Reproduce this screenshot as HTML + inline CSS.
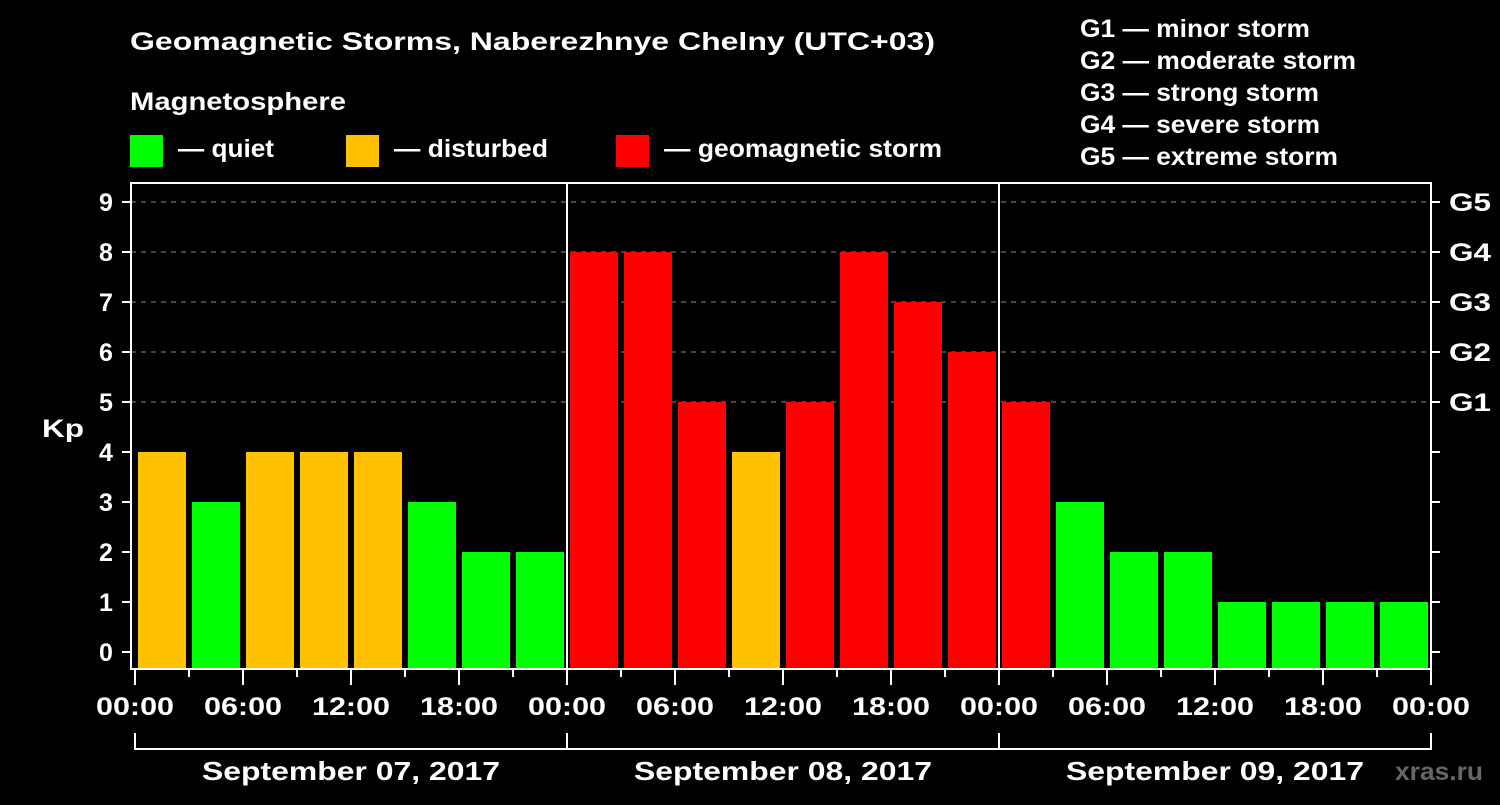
<!DOCTYPE html>
<html><head><meta charset="utf-8"><style>
body{margin:0;background:#000;width:1500px;height:800px;overflow:hidden}
svg text{font-family:"Liberation Sans",sans-serif;font-weight:bold;fill:#fff}
</style></head><body>
<svg id="c" width="1500" height="800">
<text x="130" y="50" font-size="25" textLength="805" lengthAdjust="spacingAndGlyphs">Geomagnetic Storms, Naberezhnye Chelny (UTC+03)</text>
<text x="130" y="110" font-size="25" textLength="216" lengthAdjust="spacingAndGlyphs">Magnetosphere</text>
<g><rect x="130" y="135" width="33" height="32" fill="#00ff00"/><text x="178" y="157" font-size="25" textLength="96" lengthAdjust="spacingAndGlyphs">— quiet</text></g>
<g><rect x="346" y="135" width="33" height="32" fill="#ffc000"/><text x="394" y="157" font-size="25" textLength="154" lengthAdjust="spacingAndGlyphs">— disturbed</text></g>
<g><rect x="616" y="135" width="33" height="32" fill="#ff0000"/><text x="664" y="157" font-size="25" textLength="278" lengthAdjust="spacingAndGlyphs">— geomagnetic storm</text></g>
<g font-size="25">
<text x="1080" y="37" textLength="230" lengthAdjust="spacingAndGlyphs">G1 — minor storm</text><text x="1080" y="69" textLength="276" lengthAdjust="spacingAndGlyphs">G2 — moderate storm</text><text x="1080" y="101" textLength="239" lengthAdjust="spacingAndGlyphs">G3 — strong storm</text><text x="1080" y="133" textLength="240" lengthAdjust="spacingAndGlyphs">G4 — severe storm</text><text x="1080" y="165" textLength="258" lengthAdjust="spacingAndGlyphs">G5 — extreme storm</text></g>
<text x="42" y="437" font-size="25" textLength="42" lengthAdjust="spacingAndGlyphs">Kp</text>
<g id="grid"></g><g id="bars"></g><g id="axes"></g>
<text x="1395" y="780" font-size="25" textLength="88" lengthAdjust="spacingAndGlyphs" style="fill:#666">xras.ru</text>
</svg>
<script>
const kpValues=[4,3,4,4,4,3,2,2, 8,8,5,4,5,8,7,6, 5,3,2,2,1,1,1,1];
const dayLabels=["September 07, 2017","September 08, 2017","September 09, 2017"];
const timeLabels=["00:00","06:00","12:00","18:00"];
const gLabels=["G1","G2","G3","G4","G5"];
const NS="http://www.w3.org/2000/svg";
const x0=135,pxH=18,y0=652,pxK=50,plotBot=668;
const X=h=>x0+h*pxH, Y=k=>y0-k*pxK;
function el(p,t,a,txt){const e=document.createElementNS(NS,t);for(const k in a)e.setAttribute(k,a[k]);if(txt!==undefined)e.textContent=txt;p.appendChild(e);return e;}
const grid=document.getElementById('grid'),bars=document.getElementById('bars'),ax=document.getElementById('axes');
for(let k=5;k<=9;k++){const l=el(grid,'line',{x1:131,x2:1431,y1:Y(k),y2:Y(k),stroke:'#888','stroke-dasharray':'5,5','stroke-width':1});

}
const col=v=>v>=5?'#ff0000':v==4?'#ffc000':'#00ff00';
kpValues.forEach((v,i)=>{const r=el(bars,'rect',{x:X(i*3)+3,y:Y(v),width:3*pxH-6,height:plotBot-Y(v),fill:col(v)});

});
el(ax,'rect',{x:131,y:183,width:1300,height:486,fill:'none',stroke:'#fff','stroke-width':2});
for(let d=1;d<3;d++)el(ax,'line',{x1:X(d*24),x2:X(d*24),y1:183,y2:668,stroke:'#fff','stroke-width':2});
for(let k=0;k<=9;k++){el(ax,'line',{x1:122,x2:131,y1:Y(k),y2:Y(k),stroke:'#fff','stroke-width':2});
el(ax,'line',{x1:1431,x2:1440,y1:Y(k),y2:Y(k),stroke:'#fff','stroke-width':2});
const t=el(ax,'text',{x:106,y:Y(k)+9,'font-size':25,'text-anchor':'middle'},String(k));

}
gLabels.forEach((g,i)=>{const t=el(ax,'text',{x:1449,y:Y(i+5)+9,'font-size':25,textLength:42,lengthAdjust:'spacingAndGlyphs'},g);

});
for(let h=0;h<=72;h+=3){const maj=h%6==0;el(ax,'line',{x1:X(h),x2:X(h),y1:669,y2:maj?685:677,stroke:'#fff','stroke-width':2});
if(maj){const t=el(ax,'text',{x:X(h),y:715,'font-size':25,'text-anchor':'middle',textLength:78,lengthAdjust:'spacingAndGlyphs'},timeLabels[(h/6)%4]);

}}
el(ax,'line',{x1:X(0),x2:X(72),y1:749,y2:749,stroke:'#fff','stroke-width':2});
for(let d=0;d<=3;d++)el(ax,'line',{x1:X(d*24),x2:X(d*24),y1:733,y2:750,stroke:'#fff','stroke-width':2});
dayLabels.forEach((s,d)=>{const t=el(ax,'text',{x:X(d*24+12),y:780,'font-size':26,'text-anchor':'middle',textLength:298,lengthAdjust:'spacingAndGlyphs'},s);

});
</script>
</body></html>
